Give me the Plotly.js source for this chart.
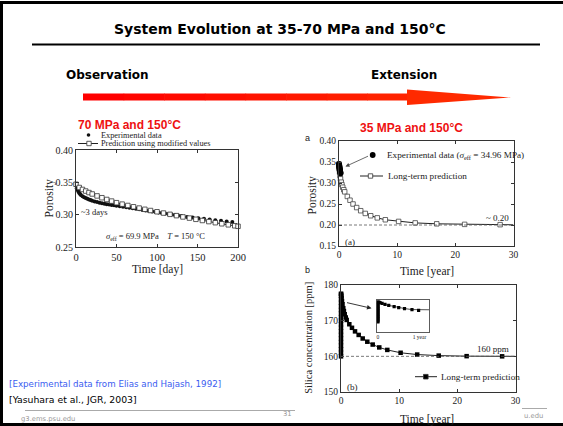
<!DOCTYPE html>
<html><head><meta charset="utf-8">
<script src="https://cdn.plot.ly/plotly-3.0.1.min.js"></script>
<style>html,body{margin:0;padding:0;background:#fff;overflow:hidden}#chart{width:563px;height:426px}</style>
</head><body><div id="chart"></div>
<script>
// ---------- Chart 1 (70 MPa, days) ----------
const c1ExpT = [0,1,2,3,4,5,6,8,10,12,14,16,18,20,23,26,29,32,35,38,41,44,47,50,54,58,62,66,70,74,78,82,86,90,94,98,102,106,110,114,118,122,126,130,137,144,151,158,165,172,179,186,193];
const c1ExpV = [0.345,0.341,0.338,0.3355,0.3335,0.332,0.3305,0.3285,0.327,0.3257,0.3245,0.3235,0.3225,0.3217,0.3205,0.3195,0.3186,0.3178,0.317,0.3163,0.3156,0.315,0.3144,0.3138,0.313,0.3122,0.3114,0.3106,0.3098,0.309,0.3082,0.3074,0.3066,0.3058,0.305,0.3042,0.3034,0.3026,0.3018,0.301,0.3002,0.2995,0.2988,0.2981,0.2965,0.2955,0.2945,0.2935,0.2925,0.2915,0.2905,0.2895,0.2885];
const c1PredT = [0,4,8,12,16,20,26,32,38,44,50,57,64,71,78,85,92,100,108,116,124,132,140,148,156,164,172,180,188,196,200];
const c1PredV = [0.347,0.342,0.339,0.3365,0.3342,0.332,0.329,0.3262,0.3235,0.321,0.3185,0.3163,0.3142,0.3122,0.3102,0.3083,0.3064,0.3045,0.3025,0.3005,0.2985,0.2965,0.2947,0.2928,0.291,0.2893,0.2876,0.2859,0.2843,0.2828,0.282];
const c1XTicks = [0,50,100,150,200];
const c1YTicks = [0.25,0.30,0.35,0.40];

// ---------- Chart 2 (35 MPa porosity, years) ----------
const c2ExpT = [0,0.02,0.04,0.06,0.08,0.1,0.12,0.14,0.17,0.2,0.23,0.26];
const c2ExpV = [0.345,0.343,0.341,0.339,0.337,0.335,0.333,0.331,0.329,0.327,0.325,0.323];
const predT  = [0,0.02,0.05,0.1,0.17,0.26,0.39,0.5,0.64,0.82,0.98,1.43,1.89,2.41,3.04,3.73,4.52,5.45,6.58,7.96,10.25,13.1,16.8,21.6,27.7];
const c2PredV = [0.345,0.34,0.333,0.326,0.318,0.31,0.302,0.296,0.29,0.284,0.279,0.268,0.259,0.25,0.2415,0.234,0.2275,0.222,0.217,0.2125,0.2085,0.205,0.2028,0.2015,0.2008];
const c2LineEnd = {t:30, v:0.2005};
const c2Asymptote = 0.20;
const c2XTicks = [0,10,20,30];
const c2YTicks = [0.15,0.20,0.25,0.30,0.35,0.40];

// ---------- Chart 3 (silica, years) ----------
const c3RiseT = [0,0,0,0,0,0,0,0,0,0,0,0,0,0,0,0,0,0];
const c3RiseV = [160,161,162,163,164,165,166,167,168,169,170,171,172,173,174,175,176,177];
const c3DecayV = [177.5,177.5,177,176.3,175.5,174.6,173.5,172.7,171.8,170.9,170.2,169,168,167,166,165,164.1,163.3,162.5,161.8,161,160.5,160.2,160.05,160];
const c3LineEnd = {t:30, v:160};
const c3Asymptote = 160;
const c3XTicks = [0,10,20,30];
const c3YTicks = [150,160,170,180];
const insetTicks = [0,1];
const insetTickText = ['0','1 year'];

// ---------- layout helpers ----------
const W=563,H=426;
const px = x => x/W, py = y => 1 - y/H;
const serif = 'Liberation Serif, Times New Roman, serif';
const ink = '#222';

const c3T = c3RiseT.concat(predT);
const c3V = c3RiseV.concat(c3DecayV);

const traces = [
  {x:c1ExpT, y:c1ExpV, xaxis:'x', yaxis:'y', mode:'markers', type:'scatter', cliponaxis:false,
   marker:{symbol:'circle', size:4, color:'#111'}},
  {x:c1PredT, y:c1PredV, xaxis:'x', yaxis:'y', mode:'lines+markers', type:'scatter', cliponaxis:false,
   line:{color:'#222', width:1}, marker:{symbol:'square', size:4.5, color:'#fff', line:{color:'#333', width:0.8}}},
  {x:predT.concat([c2LineEnd.t]), y:c2PredV.concat([c2LineEnd.v]), xaxis:'x2', yaxis:'y2', mode:'lines', type:'scatter',
   line:{color:'#222', width:1}},
  {x:predT, y:c2PredV, xaxis:'x2', yaxis:'y2', mode:'markers', type:'scatter', cliponaxis:false,
   marker:{symbol:'square', size:4.5, color:'#fff', line:{color:'#444', width:0.8}}},
  {x:c2ExpT, y:c2ExpV, xaxis:'x2', yaxis:'y2', mode:'markers', type:'scatter', cliponaxis:false,
   marker:{symbol:'circle', size:6, color:'#000'}},
  {x:c3T.concat([c3LineEnd.t]), y:c3V.concat([c3LineEnd.v]), xaxis:'x3', yaxis:'y3', mode:'lines', type:'scatter',
   line:{color:'#222', width:1}},
  {x:c3T, y:c3V, xaxis:'x3', yaxis:'y3', mode:'markers', type:'scatter', cliponaxis:false,
   marker:{symbol:'square', size:4.5, color:'#000'}},
  {x:c3T, y:c3V, xaxis:'x4', yaxis:'y4', mode:'lines+markers', type:'scatter',
   line:{color:'#222', width:0.8}, marker:{symbol:'square', size:3.2, color:'#000'}}
];

function ax(domain, range, tickvals, extra){
  return Object.assign({domain:domain, range:range, tickvals:tickvals, showgrid:false, zeroline:false,
    showline:true, linecolor:'#333', linewidth:1, mirror:'ticks', ticks:'inside', ticklen:3, tickcolor:'#333',
    tickfont:{family:serif, size:9.5, color:ink}, fixedrange:true}, extra||{});
}

const layout = {
  width:W, height:H, margin:{l:0,r:0,t:0,b:0}, paper_bgcolor:'#fff', plot_bgcolor:'rgba(0,0,0,0)', showlegend:false,
  xaxis: ax([px(76),px(238)],[0,200],c1XTicks,{anchor:'y', tickfont:{family:serif,size:10.5,color:ink}}),
  yaxis: ax([py(247),py(150)],[0.25,0.40],c1YTicks,{anchor:'x', tickformat:'.2f', tickfont:{family:serif,size:10,color:ink}}),
  xaxis2: ax([px(339),px(513.5)],[0,30],c2XTicks,{anchor:'y2'}),
  yaxis2: ax([py(246),py(141)],[0.15,0.40],c2YTicks,{anchor:'x2', tickformat:'.2f'}),
  xaxis3: ax([px(341),px(515.5)],[0,30],c3XTicks,{anchor:'y3'}),
  yaxis3: ax([py(392),py(285)],[150,180],c3YTicks,{anchor:'x3'}),
  xaxis4: ax([px(376.7),px(429)],[-0.03,1.23],insetTicks,{anchor:'y4', ticktext:insetTickText, ticks:'', mirror:true, linewidth:0.8,
    tickfont:{family:serif,size:5.5,color:ink}}),
  yaxis4: ax([py(331.7),py(300)],[151.5,179.3],[],{anchor:'x4', ticks:'', mirror:true, showticklabels:false, linewidth:0.8}),
  shapes:[], annotations:[]
};

const S = layout.shapes, A = layout.annotations;
// slide frame and rule
S.push({type:'line',xref:'paper',yref:'paper',x0:px(1.5),x1:px(1.5),y0:py(1),y1:py(426),line:{color:'#000',width:3}});
S.push({type:'line',xref:'paper',yref:'paper',x0:0,x1:1,y0:py(2.5),y1:py(2.5),line:{color:'#000',width:3}});
S.push({type:'line',xref:'paper',yref:'paper',x0:0,x1:1,y0:py(424.5),y1:py(424.5),line:{color:'#000',width:3}});
S.push({type:'line',xref:'paper',yref:'paper',x0:px(32),x1:px(540),y0:py(44.5),y1:py(44.5),line:{color:'#000',width:2.2}});
// big arrow: shaft in segments (red to orange-red), then head
const shaftCols = ['#ff0000','#ff0500','#ff0a00','#ff0f00','#ff1400','#ff1900','#ff1e00','#ff2300'];
const shaftX0 = 83, shaftX1 = 408, segW = (shaftX1-shaftX0)/shaftCols.length;
shaftCols.forEach((c,i)=>{
  S.push({type:'rect',xref:'paper',yref:'paper',x0:px(shaftX0+i*segW),x1:px(shaftX0+(i+1)*segW+0.6),y0:py(100.5),y1:py(93.5),fillcolor:c,line:{width:0}});
});
const headPts = [[407,89.5],[511,97.5],[407,105]];
S.push({type:'path',xref:'paper',yref:'paper',path:'M '+headPts.map(p=>px(p[0])+','+py(p[1])).join(' L ')+' Z',
  fillcolor:'#ff2a00',line:{width:0}});
// footer lines
S.push({type:'line',xref:'paper',yref:'paper',x0:px(25),x1:px(295),y0:py(410.5),y1:py(410.5),line:{color:'#aaa',width:1}});
S.push({type:'line',xref:'paper',yref:'paper',x0:px(522),x1:px(547),y0:py(408.5),y1:py(408.5),line:{color:'#aaa',width:1}});
// dashed asymptotes
S.push({type:'line',xref:'x2',yref:'y2',x0:0,x1:30,y0:c2Asymptote,y1:c2Asymptote,line:{color:'#555',width:0.8,dash:'3px,2px'}});
S.push({type:'line',xref:'x3',yref:'y3',x0:0,x1:30,y0:c3Asymptote,y1:c3Asymptote,line:{color:'#555',width:0.8,dash:'3px,2px'}});
// legend symbols
function circ(cx,cy,r,fill){S.push({type:'circle',xref:'paper',yref:'paper',x0:px(cx-r),x1:px(cx+r),y0:py(cy+r),y1:py(cy-r),fillcolor:fill,line:{width:0}});}
function sq(cx,cy,h,fill){S.push({type:'rect',xref:'paper',yref:'paper',x0:px(cx-h),x1:px(cx+h),y0:py(cy+h),y1:py(cy-h),fillcolor:fill,line:{color:'#333',width:0.8}});}
function hl(x0,x1,y){S.push({type:'line',xref:'paper',yref:'paper',x0:px(x0),x1:px(x1),y0:py(y),y1:py(y),line:{color:'#222',width:1}});}
circ(88.5,135,1.8,'#111');
hl(78,98,143.5); sq(89,143.5,2.2,'#fff');
circ(372.7,155,2.9,'#000');
hl(360,383,176); sq(370.5,176,2.2,'#fff');
hl(415,437,376.7); sq(425.8,376.7,2.3,'#000');

function T(text,x,y,o){
  A.push(Object.assign({text:text,xref:'paper',yref:'paper',x:px(x),y:py(y),showarrow:false,xanchor:'left',yanchor:'middle',
    font:{family:serif,size:9,color:ink}},o||{}));
}
const comic = 'DejaVu Sans, sans-serif';
T('System Evolution at 35-70 MPa and 150°C',280,29,{xanchor:'center',font:{family:comic,size:14,color:'#000',weight:'bold'}});
T('Observation',64,75,{font:{family:comic,size:12,color:'#000',weight:'bold'}});
T('Extension',369,75,{font:{family:comic,size:12,color:'#000',weight:'bold'}});
T('70 MPa and 150°C',76,125,{font:{family:'Liberation Sans, Arial, sans-serif',size:12,color:'#ee1111',weight:'bold'}});
T('35 MPa and 150°C',358,128.3,{font:{family:'Liberation Sans, Arial, sans-serif',size:12,color:'#ee1111',weight:'bold'}});
// chart 1 texts
T('Experimental data',98.5,135,{font:{family:serif,size:8.3,color:ink}});
T('Prediction using modified values',98.5,143.7,{font:{family:serif,size:8.3,color:ink}});
T('~3 days',78.5,211.7,{font:{family:serif,size:8.5,color:ink}});
T('<i>σ</i><sub>eff</sub> = 69.9 MPa\u00a0\u00a0\u00a0\u00a0<i>T</i> = 150 °C',104,236,{font:{family:serif,size:8.5,color:ink}});
T('Time [day]',157,269.5,{xanchor:'center',font:{family:serif,size:11.5,color:ink}});
T('Porosity',48.5,198,{xanchor:'center',textangle:-90,font:{family:serif,size:11.5,color:ink}});
// chart 2 texts
T('a',307.5,138.3,{xanchor:'center',font:{family:'Liberation Sans, Arial, sans-serif',size:9,color:ink}});
T('Experimental data (<i>σ</i><sub>eff</sub> = 34.96 MPa)',384.5,155,{font:{family:serif,size:9.2,color:ink}});
T('Long-term prediction',385.5,176,{font:{family:serif,size:9.2,color:ink}});
T('~ 0.20',511,217.5,{xanchor:'right',font:{family:serif,size:9,color:ink}});
T('(a)',342.5,241.7,{font:{family:serif,size:9,color:ink}});
T('Time [year]',427,271.5,{xanchor:'center',font:{family:serif,size:11.5,color:ink}});
T('Porosity',311.5,195,{xanchor:'center',textangle:-90,font:{family:serif,size:11.5,color:ink}});
// chart 3 texts
T('b',308,270,{xanchor:'center',font:{family:'Liberation Sans, Arial, sans-serif',size:9,color:ink}});
T('160 ppm',511,349.3,{xanchor:'right',font:{family:serif,size:9,color:ink}});
T('Long-term prediction',438.5,376.7,{font:{family:serif,size:9.2,color:ink}});
T('(b)',344.5,386.7,{font:{family:serif,size:9,color:ink}});
T('Time [year]',427,419,{xanchor:'center',font:{family:serif,size:11.5,color:ink}});
T('Silica concentration [ppm]',308.3,337.5,{xanchor:'center',textangle:-90,font:{family:serif,size:10.5,color:ink}});
// arrows
A.push({text:'',xref:'paper',yref:'paper',x:px(345.5),y:py(166.5),ax:24,ay:-11,showarrow:true,arrowhead:2,arrowsize:1,arrowwidth:0.8,arrowcolor:'#444'});
A.push({text:'',xref:'paper',yref:'paper',x:px(371.5),y:py(308.3),ax:-26,ay:-6,showarrow:true,arrowhead:2,arrowsize:1,arrowwidth:0.9,arrowcolor:'#222'});
// bottom texts
T('[Experimental data from Elias and Hajash, 1992]',7,383.5,{font:{family:comic,size:8.7,color:'#3a5cf0'}});
T('[Yasuhara et al., JGR, 2003]',7,399,{font:{family:comic,size:9.3,color:'#000'}});
T('g3.ems.psu.edu',19,419.3,{font:{family:comic,size:6.8,color:'#999'}});
T('31',294,414.3,{xanchor:'right',font:{family:comic,size:6.8,color:'#999'}});
T('u.edu',522,416,{font:{family:comic,size:6.8,color:'#999'}});

Plotly.newPlot('chart', traces, layout, {staticPlot:true, displayModeBar:false});
</script></body></html>
